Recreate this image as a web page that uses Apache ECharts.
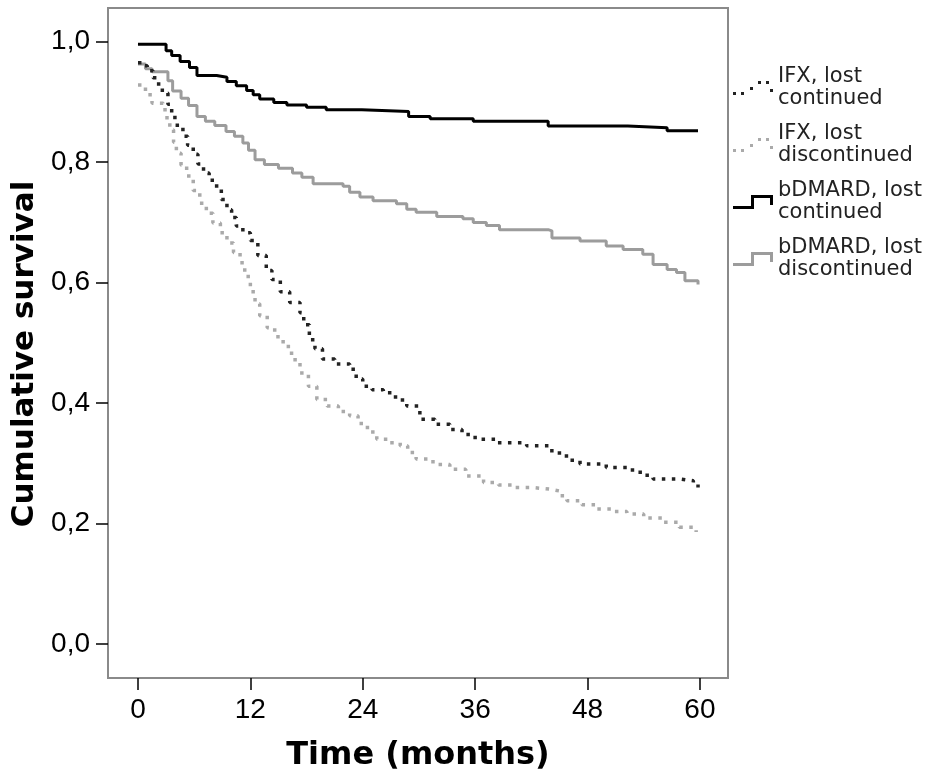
<!DOCTYPE html>
<html>
<head>
<meta charset="utf-8">
<script src="https://cdn.jsdelivr.net/npm/echarts@6/dist/echarts.min.js"></script>
<style>
html,body{margin:0;padding:0;background:#fff;}
#chart{width:945px;height:778px;}
</style>
</head>
<body>
<div id="chart"></div>
<script>
// ---- Data (Kaplan-Meier step points: [time in months, cumulative survival]) ----
const seriesNames = [
  'IFX, lost\ncontinued',
  'IFX, lost\ndiscontinued',
  'bDMARD, lost\ncontinued',
  'bDMARD, lost\ndiscontinued'
];
const xTicks = [0, 12, 24, 36, 48, 60];
const yTicks = [0, 0.2, 0.4, 0.6, 0.8, 1.0];

const ifxContinued = [
  [0,0.965],[0.4,0.960],[1.0,0.952],[1.6,0.940],[2.0,0.930],[2.6,0.915],[3.2,0.896],[3.6,0.874],
  [4.2,0.858],[4.8,0.843],[5.3,0.828],[5.9,0.813],[6.4,0.797],[7,0.782],[7.6,0.770],[8.4,0.755],
  [8.9,0.738],[9.5,0.721],[10.0,0.708],[10.5,0.694],[11.2,0.683],[12,0.670],[12.8,0.645],
  [13.7,0.620],[14.3,0.605],[15.2,0.585],[16.2,0.567],[17.3,0.550],[17.7,0.530],[18.3,0.505],
  [18.9,0.490],[19.7,0.473],[21,0.465],[22.6,0.456],[23.3,0.440],[24,0.428],[25,0.422],
  [26.2,0.417],[27.5,0.405],[28.7,0.395],[30.1,0.373],[31.7,0.365],[33.3,0.356],[34.6,0.348],
  [36,0.340],[38.3,0.334],[41.5,0.329],[44,0.321],[45,0.312],[46,0.305],[47.2,0.299],[50,0.293],
  [52.8,0.285],[54,0.280],[55,0.274],[57.9,0.271],[59.3,0.265],[59.8,0.260]
];
const ifxDiscontinued = [
  [0,0.928],[0.8,0.912],[1.5,0.898],[2.7,0.887],[3.1,0.870],[3.4,0.854],[3.8,0.833],[4.1,0.815],
  [4.6,0.795],[5.2,0.777],[5.9,0.753],[6.6,0.732],[7.3,0.715],[8,0.699],[8.8,0.683],[9.5,0.666],
  [10.2,0.650],[10.9,0.633],[11.4,0.610],[12,0.585],[12.5,0.565],[13,0.545],[13.8,0.525],
  [14.6,0.510],[15.5,0.494],[16.4,0.472],[17.3,0.450],[18.2,0.428],[19.1,0.406],[20.2,0.395],
  [21.4,0.386],[22.6,0.379],[23.5,0.366],[24.5,0.352],[25.5,0.340],[26.7,0.334],[28,0.329],
  [28.8,0.318],[29.7,0.307],[31.5,0.298],[33.3,0.290],[35,0.279],[36.9,0.268],[38.5,0.264],
  [40,0.260],[42,0.257],[44,0.254],[45,0.246],[45.8,0.238],[47.4,0.231],[49,0.224],[50.6,0.220],
  [52.2,0.216],[54,0.209],[56,0.202],[57.8,0.194],[59.6,0.186]
];
const bdmardContinued = [
  [0,0.996],[3.0,0.985],[3.6,0.977],[4.5,0.967],[5.5,0.957],[6.3,0.944],[8.4,0.941],
  [9.5,0.934],[10.5,0.927],[11.6,0.919],[12.3,0.912],[13,0.905],[14.5,0.899],[15.9,0.895],[18,0.891],
  [20.1,0.887],[23.9,0.884],[28.9,0.876],[31.2,0.872],[35.8,0.868],[43.8,0.860],
  [52.3,0.857],[56.5,0.852],[59.8,0.852]
];
const bdmardDiscontinued = [
  [0,0.963],[0.8,0.955],[1.5,0.950],[3.2,0.935],[3.7,0.918],[4.6,0.906],[5.4,0.894],
  [6.3,0.876],[7.2,0.868],[8.2,0.861],[9.4,0.851],[10.3,0.843],[11.2,0.832],[11.8,0.820],
  [12.5,0.804],[13.5,0.796],[15,0.790],[16.5,0.782],[17.5,0.775],[18.7,0.764],[21.9,0.760],
  [22.6,0.750],[23.7,0.742],[25.1,0.736],[27.6,0.731],[28.7,0.722],[29.7,0.717],[31.9,0.710],
  [34.7,0.706],[35.8,0.700],[37.2,0.695],[38.6,0.688],[43.8,0.686],[44.2,0.674],[47.2,0.669],
  [50,0.661],[51.8,0.655],[53.9,0.647],[55,0.630],[56.5,0.622],[57.5,0.617],[58.4,0.603],[59.8,0.597]
];

// ---- Legend icons ----
const stepIcon = 'path://M0,11L20,11L20,14L0,14Z M18,0L21,0L21,14L18,14Z M18,0L40,0L40,3L18,3Z M37,0L40,0L40,10L37,10Z';
const dotIcon = 'path://M0,11h3v3h-3Z M8,11h3v3h-3Z M17,6h3v3h-3Z M25,0h3v3h-3Z M33,0h3v3h-3Z M37,8h3v3h-3Z M0,0h0.01v0.01h-0.01Z M39.99,13.99h0.01v0.01h-0.01Z';

const chart = echarts.init(document.getElementById('chart'), null, {renderer: 'canvas'});

function lineSeries(name, data, color, dotted) {
  return {
    name: name,
    type: 'line',
    step: 'end',
    data: data,
    showSymbol: false,
    symbol: 'none',
    silent: true,
    color: color,
    lineStyle: dotted
      ? {color: color, width: 3.5, type: [3.5, 6.5], cap: 'butt'}
      : {color: color, width: 3},
    z: dotted ? 3 : 2
  };
}

const option = {
  animation: false,
  backgroundColor: '#ffffff',
  grid: {
    left: 108, right: 217, top: 8, bottom: 100,
    show: true, borderColor: '#8a8a8a', borderWidth: 2, backgroundColor: 'transparent'
  },
  legend: {
    orient: 'vertical',
    left: 733,
    top: 66,
    padding: 0,
    itemGap: 13,
    itemWidth: 40,
    itemHeight: 14,
    selectedMode: false,
    textStyle: {fontFamily: 'DejaVu Sans', fontSize: 21, lineHeight: 22, color: '#222'},
    data: [
      {name: seriesNames[0], icon: dotIcon, itemStyle: {color: '#222', borderWidth: 0}},
      {name: seriesNames[1], icon: dotIcon, itemStyle: {color: '#aaaaaa', borderWidth: 0}},
      {name: seriesNames[2], icon: stepIcon, itemStyle: {color: '#000', borderWidth: 0}},
      {name: seriesNames[3], icon: stepIcon, itemStyle: {color: '#9c9c9c', borderWidth: 0}}
    ]
  },
  xAxis: {
    type: 'value',
    min: -3.2,
    max: 63.0,
    name: 'Time (months)',
    nameLocation: 'middle',
    nameGap: 62,
    nameTextStyle: {fontFamily: 'DejaVu Sans', fontWeight: 'bold', fontSize: 32, color: '#000'},
    axisLine: {show: false, onZero: false},
    splitLine: {show: false},
    axisTick: {show: true, length: 12, lineStyle: {color: '#000', width: 1.5}, customValues: xTicks},
    axisLabel: {
      customValues: xTicks, margin: 18,
      fontFamily: 'Liberation Sans', fontSize: 28, color: '#000'
    }
  },
  yAxis: {
    type: 'value',
    min: -0.0565,
    max: 1.056,
    name: 'Cumulative survival',
    nameLocation: 'middle',
    nameGap: 62,
    nameRotate: 90,
    nameTextStyle: {fontFamily: 'DejaVu Sans', fontWeight: 'bold', fontSize: 31, color: '#000', padding: [0, 22, 0, 0]},
    axisLine: {show: false, onZero: false},
    splitLine: {show: false},
    axisTick: {show: true, length: 12, lineStyle: {color: '#000', width: 1.5}, customValues: yTicks},
    axisLabel: {
      customValues: yTicks, margin: 18,
      fontFamily: 'Liberation Sans', fontSize: 28, color: '#000',
      formatter: function (v) { return v.toFixed(1).replace('.', ','); }
    }
  },
  series: [
    lineSeries(seriesNames[0], ifxContinued, '#222222', true),
    lineSeries(seriesNames[1], ifxDiscontinued, '#aaaaaa', true),
    lineSeries(seriesNames[2], bdmardContinued, '#000000', false),
    lineSeries(seriesNames[3], bdmardDiscontinued, '#9c9c9c', false)
  ]
};
chart.setOption(option);
</script>
</body>
</html>
